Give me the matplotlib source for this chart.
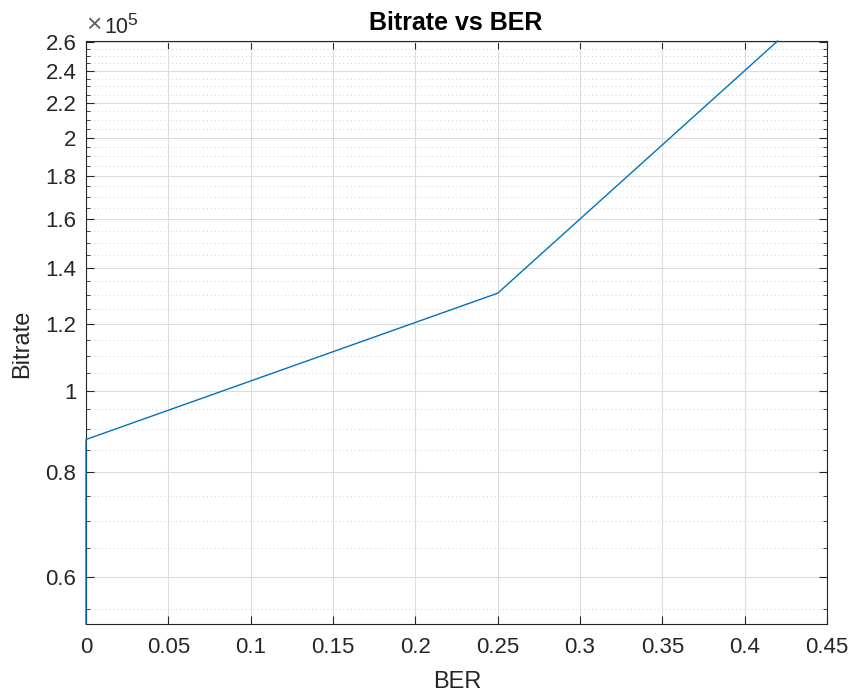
import matplotlib
matplotlib.use("Agg")
import matplotlib.pyplot as plt
from matplotlib.ticker import FixedLocator, FuncFormatter

plt.rcParams['font.family'] = ['Liberation Sans', 'DejaVu Sans']

# Data
ber = [0.0, 0.0, 0.25, 0.42]
bitrate = [52800, 87500, 130600, 260500]

major_ticks = [0.6, 0.8, 1.0, 1.2, 1.4, 1.6, 1.8, 2.0, 2.2, 2.4, 2.6]
minor_ticks = [0.55, 0.65, 0.7, 0.75, 0.85, 0.9, 0.95, 1.05, 1.1, 1.15, 1.25, 1.3, 1.35,
               1.45, 1.5, 1.55, 1.65, 1.7, 1.75, 1.85, 1.9, 1.95, 2.05, 2.1, 2.15,
               2.25, 2.3, 2.35, 2.45, 2.5, 2.55]
x_ticks = [0, 0.05, 0.1, 0.15, 0.2, 0.25, 0.3, 0.35, 0.4, 0.45]
x_labels = ['0', '0.05', '0.1', '0.15', '0.2', '0.25', '0.3', '0.35', '0.4', '0.45']

W, H = 852, 694
fig = plt.figure(figsize=(W/100, H/100), dpi=100)
ax = fig.add_axes([86/W, 1-624/H, (827-86)/W, (624-41)/H])

ax.plot(ber, bitrate, color='#0072BD', lw=1.0, zorder=3, clip_on=False)
ax.set_yscale('log')
ax.set_xlim(0, 0.45)
ax.set_ylim(min(bitrate), max(bitrate))

ax.yaxis.set_major_locator(FixedLocator([v*1e5 for v in major_ticks]))
ax.yaxis.set_minor_locator(FixedLocator([v*1e5 for v in minor_ticks]))
ax.yaxis.set_major_formatter(FuncFormatter(lambda v, p: ('%g' % (v/1e5))))
ax.yaxis.set_minor_formatter(FuncFormatter(lambda v, p: ''))
ax.set_xticks(x_ticks)
ax.set_xticklabels(x_labels)

edge = '#262626'
for s in ax.spines.values():
    s.set_color(edge)
    s.set_linewidth(0.8)
    s.set_zorder(2.5)
ax.tick_params(which='both', direction='in', top=True, right=True, colors=edge,
               labelsize=16, labelcolor='#262626')
ax.tick_params(axis='x', which='major', length=6, width=0.8, pad=9.5)
ax.tick_params(axis='y', which='major', length=6, width=0.8, pad=7)
ax.tick_params(which='minor', length=3, width=0.6)

ax.grid(True, which='major', color='#dcdcdc', lw=0.8)
ax.grid(True, which='minor', color='#cfcfcf', lw=0.7, linestyle=(0, (1, 3)))
ax.set_axisbelow(True)

fig.text(456/W, 1-30/H, 'Bitrate vs BER', fontsize=18, fontweight='bold',
         color='black', ha='center', va='baseline')
fig.text(457/W, 1-682/H, 'BER', fontsize=17, color='#262626', ha='center', va='center')
fig.text(22/W, 1-344/H, 'Bitrate', fontsize=17, color='#262626', ha='center',
         va='center', rotation=90)
fig.text(86/W, 1-32/H, '×', fontsize=19, color='#606060', ha='left', va='baseline')
fig.text(104/W, 1-33/H, '10', fontsize=15.5, color='#262626', ha='left', va='baseline')
fig.text(127.5/W, 1-25/H, '5', fontsize=12.5, color='#262626', ha='left', va='baseline')

fig.savefig('out.png', dpi=100, facecolor='white')
